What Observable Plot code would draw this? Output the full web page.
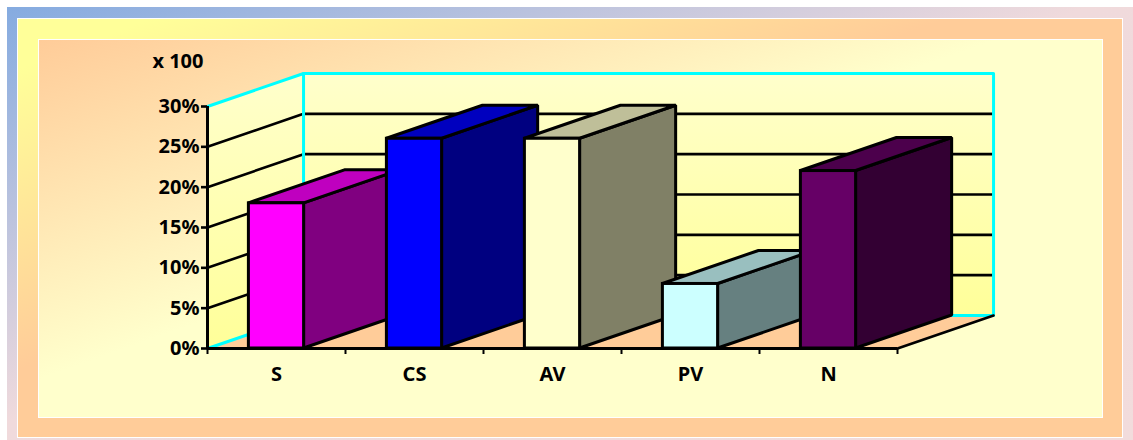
<!DOCTYPE html>
<html>
<head>
<meta charset="utf-8">
<script src="https://cdn.jsdelivr.net/npm/d3@7"></script>
<script src="https://cdn.jsdelivr.net/npm/@observablehq/plot@0.6"></script>
<style>
  html, body { margin: 0; padding: 0; background: #fff; }
  #page { position: relative; width: 1133px; height: 440px; overflow: hidden; }
  .panel { position: absolute; box-sizing: border-box; }
  #outer { left: 7px; top: 7px; width: 1126px; height: 433px;
    background: linear-gradient(to bottom right, #85abe0 0%, #f0dadc 48%, #f2dcdc 100%); }
  #band { left: 17px; top: 18px; width: 1106px; height: 420px; border: 1px solid #fff;
    background: linear-gradient(to bottom right, #ffff99 6%, #ffcc99 42%, #ffcc99 100%); }
  #inner { left: 38px; top: 39px; width: 1065px; height: 379px; border: 1px solid #fff;
    background: linear-gradient(to bottom right, #ffcc99 0%, #ffffcc 45%, #ffffcc 100%); }
  #chart { position: absolute; left: 0; top: 0; }
  #chart svg { display: block; }
</style>
</head>
<body>
<div id="page">
  <div class="panel" id="outer"></div>
  <div class="panel" id="band"></div>
  <div class="panel" id="inner"></div>
  <div id="chart"></div>
</div>
<script>
// Share of each category, in percent
const categories = ["S", "CS", "AV", "PV", "N"];
const shares = [18, 26, 26, 8, 22];
const yTicks = [0, 5, 10, 15, 20, 25, 30];
const unitLabel = "x 100";

// Face colours of each column
const frontFill = ["#ff00ff", "#0000ff", "#ffffcc", "#ccffff", "#660066"];
const topFill = ["#bf00bf", "#0000bf", "#bfbf99", "#99bfbf", "#4c004c"];
const sideFill = ["#800080", "#000080", "#808066", "#668080", "#330033"];

// Oblique projection: the depth axis shifts a point right and up, in scale units
const depthX = 0.696;
const depthY = 4.09;
const barWidth = 0.4;
const n = categories.length;
const yMax = d3.max(yTicks);
const ink = "#000";
const cyan = "#00ffff";

const walls = [
  {x: 0, y1: 0, y2: yMax},
  {x: depthX, y1: depthY, y2: yMax + depthY}
];
const backWall = [
  {x: depthX, y1: depthY, y2: yMax + depthY},
  {x: n + depthX, y1: depthY, y2: yMax + depthY}
];
const floor = [
  {y: 0, x1: 0, x2: n},
  {y: depthY, x1: depthX, x2: n + depthX}
];
const frameEdges = [
  [[0, 0], [depthX, depthY], [depthX, yMax + depthY], [0, yMax]],
  [[depthX, depthY], [n + depthX, depthY], [n + depthX, yMax + depthY], [depthX, yMax + depthY]]
];
const gridLines = yTicks.slice(1, -1).map((v) => [
  [0, v], [depthX, v + depthY], [n + depthX, v + depthY]
]);

// One column: its side, its top, then its front, painted back to front
function columnMarks(name, i) {
  const value = shares[i];
  const left = i + 0.5 - barWidth / 2;
  const right = i + 0.5 + barWidth / 2;
  const face = {stroke: ink, strokeWidth: 3, strokeLinejoin: "miter"};
  return [
    Plot.areaY(
      [{x: right, y1: 0, y2: value}, {x: right + depthX, y1: depthY, y2: value + depthY}],
      {x: "x", y1: "y1", y2: "y2", fill: sideFill[i], ...face}
    ),
    Plot.areaX(
      [{y: value, x1: left, x2: right}, {y: value + depthY, x1: left + depthX, x2: right + depthX}],
      {y: "y", x1: "x1", x2: "x2", fill: topFill[i], ...face}
    ),
    Plot.rect(
      [{x1: left, x2: right, y1: 0, y2: value}],
      {x1: "x1", x2: "x2", y1: "y1", y2: "y2", fill: frontFill[i], ...face}
    )
  ];
}

// Vertical wash shared by the two walls
function wallGradient() {
  const defs = d3.create("svg:defs");
  const g = defs.append("linearGradient")
    .attr("id", "wall-wash").attr("x1", 0).attr("x2", 0).attr("y1", 0).attr("y2", 1);
  g.append("stop").attr("offset", "0%").attr("stop-color", "#ffffcc");
  g.append("stop").attr("offset", "100%").attr("stop-color", "#ffff99");
  return defs.node();
}

const chart = Plot.plot({
  width: 1133,
  height: 440,
  marginLeft: 207,
  marginRight: 236,
  marginTop: 106,
  marginBottom: 92,
  x: {type: "linear", domain: [0, n]},
  y: {type: "linear", domain: [0, yMax]},
  style: {
    background: "transparent",
    fontFamily: "'Noto Sans', sans-serif",
    fontWeight: "bold",
    fontSize: "20px",
    color: "#000"
  },
  marks: [
    wallGradient,
    Plot.areaY(walls, {x: "x", y1: "y1", y2: "y2", fill: "url(#wall-wash)"}),
    Plot.areaY(backWall, {x: "x", y1: "y1", y2: "y2", fill: "url(#wall-wash)"}),
    Plot.areaX(floor, {y: "y", x1: "x1", x2: "x2", fill: "#ffcc99"}),
    ...gridLines.map((pts) => Plot.line(pts, {stroke: ink, strokeWidth: 2.6})),
    ...frameEdges.map((pts) => Plot.line(pts, {stroke: cyan, strokeWidth: 3})),
    Plot.line([[n, 0], [n + depthX, depthY]], {stroke: ink, strokeWidth: 2.6}),
    ...categories.flatMap(columnMarks),
    Plot.ruleX([0], {stroke: ink, strokeWidth: 3}),
    Plot.ruleY([0], {stroke: ink, strokeWidth: 3}),
    Plot.axisY({
      ticks: yTicks,
      tickSize: 6,
      tickPadding: 2,
      strokeWidth: 2.6,
      tickFormat: (d) => `${d}%`,
      label: null
    }),
    Plot.axisX({
      ticks: d3.range(n + 1),
      tickSize: 6,
      strokeWidth: 2,
      tickFormat: () => "",
      label: null
    }),
    Plot.axisX({
      ticks: categories.map((_, i) => i + 0.5),
      tickSize: 0,
      tickPadding: 18,
      tickFormat: (d) => categories[d - 0.5],
      label: null
    }),
    Plot.text([unitLabel], {
      frameAnchor: "top-left",
      dx: -4,
      dy: -53,
      textAnchor: "end"
    })
  ]
});

document.getElementById("chart").append(chart);
</script>
</body>
</html>
